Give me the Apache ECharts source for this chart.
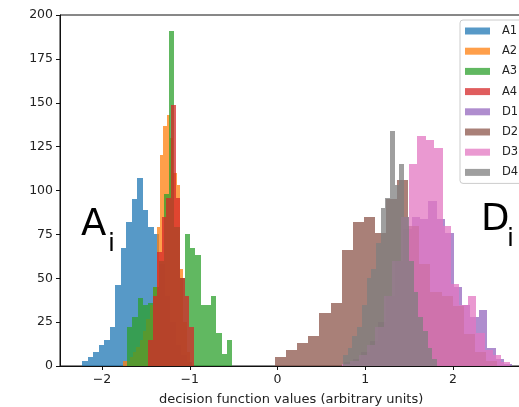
<!DOCTYPE html>
<html>
<head>
<meta charset="utf-8">
<script src="https://cdn.jsdelivr.net/npm/echarts@6/dist/echarts.min.js"></script>
<style>
  html, body { margin: 0; padding: 0; overflow: hidden; background: #fff; }
  #chart { width: 530px; height: 407px; }
</style>
</head>
<body>
<div id="chart"></div>
<script>
// Histogram of decision-function values for the A (anomalous) and D groups.
const seriesNames = ['A1', 'A2', 'A3', 'A4', 'D1', 'D2', 'D3', 'D4'];

// Bin ranges [first edge, last edge] and per-bin counts for each group.
const a1Range = [-2.228, -0.974];
const a1Counts = [3, 5, 8, 12, 15, 22, 46, 67, 82, 95, 107, 89, 79, 75, 58, 40, 25, 12, 6, 2];
const a2Range = [-1.761, -0.997];
const a2Counts = [3, 3, 5, 8, 11, 15, 20, 27, 35, 45, 79, 120, 137, 143, 130, 110, 103, 55, 25, 8];
const a3Range = [-1.715, -0.519];
const a3Counts = [22, 28, 39, 35, 36, 45, 60, 98, 191, 79, 50, 75, 67, 63, 35, 35, 40, 19, 7, 15];
const a4Range = [-1.476, -0.952];
const a4Counts = [15, 40, 65, 85, 96, 149, 96, 50, 40, 22];
const d1Range = [0.761, 2.676];
const d1Counts = [2, 4, 8, 14, 25, 40, 60, 78, 85, 84, 94, 84, 76, 45, 35, 28, 32, 10, 4, 1];
const d2Range = [-0.028, 2.501];
const d2Counts = [5, 9, 13, 17, 30, 36, 66, 82, 85, 76, 95, 106, 80, 58, 42, 40, 34, 18, 8, 3];
const d3Range = [0.733, 2.647];
const d3Counts = [1, 3, 6, 12, 22, 40, 60, 85, 115, 131, 129, 124, 80, 47, 35, 40, 19, 9, 6, 2];
const d4Range = [0.746, 1.818];
const d4Counts = [6, 10, 17, 22, 35, 50, 55, 70, 90, 96, 134, 103, 115, 85, 60, 42, 28, 20, 10, 4];

const xTicks = [-2, -1, 0, 1, 2];
const yTicks = [0, 25, 50, 75, 100, 125, 150, 175, 200];

const groups = [
  [a1Range, a1Counts], [a2Range, a2Counts], [a3Range, a3Counts], [a4Range, a4Counts],
  [d1Range, d1Counts], [d2Range, d2Counts], [d3Range, d3Counts], [d4Range, d4Counts]
];

const palette = ['#1f77b4', '#ff7f0e', '#2ca02c', '#d62728', '#9467bd', '#8c564b', '#e377c2', '#7f7f7f'];
const ALPHA = 0.75;
function withAlpha(hex, a) {
  const r = parseInt(hex.slice(1, 3), 16), g = parseInt(hex.slice(3, 5), 16), b = parseInt(hex.slice(5, 7), 16);
  return 'rgba(' + r + ',' + g + ',' + b + ',' + a + ')';
}

// Turn equal-width bins into [left edge, right edge, count] rows.
function toBins(range, counts) {
  const w = (range[1] - range[0]) / counts.length;
  return counts.map((c, i) => [range[0] + i * w, range[0] + (i + 1) * w, c]);
}

// One rectangle per bin, snapped to whole pixels so neighbouring bars meet without seams.
function renderBar(params, api) {
  const p0 = api.coord([api.value(0), api.value(2)]);
  const p1 = api.coord([api.value(1), 0]);
  const x0 = Math.round(p0[0]), x1 = Math.round(p1[0]);
  const y0 = Math.round(p0[1]), y1 = Math.round(p1[1]);
  return {
    type: 'rect',
    shape: { x: x0, y: y0, width: x1 - x0, height: y1 - y0 },
    style: { fill: api.visual('color') }
  };
}

const FONT = 'DejaVu Sans';
const chart = echarts.init(document.getElementById('chart'), null, { renderer: 'canvas' });

chart.setOption({
  animation: false,
  backgroundColor: '#fff',
  color: palette.map(c => withAlpha(c, ALPHA)),
  grid: {
    left: 60, top: 15, width: 462.4, height: 351,
    outerBoundsMode: 'none', containLabel: false,
    show: true, borderColor: '#111', borderWidth: 1, backgroundColor: 'transparent'
  },
  xAxis: {
    type: 'value', min: -2.479, max: 2.79,
    name: 'decision function values (arbitrary units)',
    nameLocation: 'middle', nameGap: 27,
    nameTextStyle: { fontFamily: FONT, fontSize: 13, color: '#222' },
    axisLine: { show: true, onZero: false, lineStyle: { color: '#111' } },
    axisTick: { show: true, length: 4, customValues: xTicks, lineStyle: { color: '#111' } },
    axisLabel: {
      customValues: xTicks, margin: 7, fontFamily: FONT, fontSize: 12.5, color: '#222',
      formatter: v => String(v).replace('-', '\u2212')
    },
    splitLine: { show: false }
  },
  yAxis: {
    type: 'value', min: 0, max: 200, interval: 25,
    axisLine: { show: true, onZero: false, lineStyle: { color: '#111' } },
    axisTick: { show: true, length: 4, lineStyle: { color: '#111' } },
    axisLabel: { margin: 7, fontFamily: FONT, fontSize: 12.5, color: '#222',
      customValues: yTicks },
    splitLine: { show: false }
  },
  legend: {
    orient: 'vertical', left: 460, top: 20,
    icon: 'rect', itemWidth: 25, itemHeight: 7, itemGap: 6.2,
    padding: [4, 30, 4, 5],
    borderColor: '#ccc', borderWidth: 1, borderRadius: 3,
    backgroundColor: 'rgba(255,255,255,0.8)',
    textStyle: { fontFamily: FONT, fontSize: 11.5, color: '#222', lineHeight: 14, padding: [0, 0, 0, 7] },
    data: seriesNames
  },
  graphic: [
    { type: 'text', left: 81, top: 207, z: 10,
      style: { text: 'A', font: '37px "DejaVu Sans"', fill: '#000' } },
    { type: 'text', left: 108, top: 232, z: 10,
      style: { text: 'i', font: '25px "DejaVu Sans"', fill: '#000' } },
    { type: 'text', left: 481, top: 202, z: 10,
      style: { text: 'D', font: '37px "DejaVu Sans"', fill: '#000' } },
    { type: 'text', left: 507, top: 227, z: 10,
      style: { text: 'i', font: '25px "DejaVu Sans"', fill: '#000' } }
  ],
  series: groups.map((g, i) => ({
    name: seriesNames[i],
    type: 'custom',
    renderItem: renderBar,
    encode: { x: [0, 1], y: 2 },
    data: toBins(g[0], g[1]),
    z: 2 + i
  }))
});
</script>
</body>
</html>
